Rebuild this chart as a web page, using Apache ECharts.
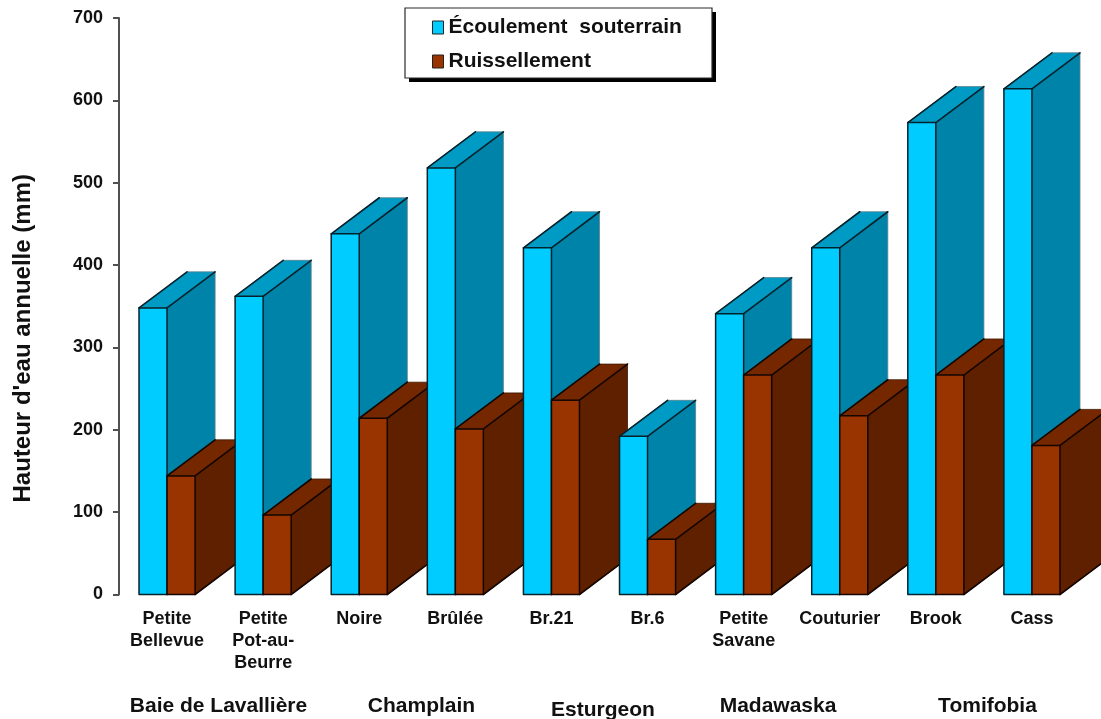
<!DOCTYPE html>
<html>
<head>
<meta charset="utf-8">
<title>Hauteur d'eau annuelle</title>
<style>html,body{margin:0;padding:0;background:#fff}#chart{width:1101px;height:719px}</style>
<script src="https://cdn.jsdelivr.net/npm/echarts@6/dist/echarts.min.js"></script>
</head>
<body>
<div id="chart"></div>
<script>
// Annual water depth (mm) per watershed
const stations = ['Petite\nBellevue', 'Petite\nPot-au-\nBeurre', 'Noire', 'Brûlée', 'Br.21', 'Br.6', 'Petite\nSavane', 'Couturier', 'Brook', 'Cass'];
const ecoulement = [348, 362, 438, 518, 421, 192, 341, 421, 573, 614];
const ruissellement = [144, 96.5, 214, 201, 236, 67, 266.5, 217, 266.5, 181];
const regions = ['Baie de Lavallière', 'Champlain', 'Esturgeon', 'Madawaska', 'Tomifobia'];
const regionCentres = [218.5, 421.5, 603, 778, 987.5];
const regionBaselines = [706, 706, 710, 706, 706];

const FONT = '"Liberation Sans", Arial, sans-serif';
const palette = {
  blue:  { front: '#00ccff', side: '#0083a8', top: '#009bc4', line: '#03222c', soft: '#5f7f8a' },
  brown: { front: '#993300', side: '#5f2000', top: '#752800', line: '#160600', soft: '#3a1500' }
};

// Extruded box: front face, right side and top, with the depth set relative to the band width
function boxRenderer(colours, bandOffset, seriesOrder) {
  return function (params, api) {
    const idx = api.value(0);
    const base = api.coord([idx, 0]);
    const head = api.coord([idx, api.value(1)]);
    const band = api.size([1, 0])[0];
    const w = band * 28 / 96;
    const dx = band * 48 / 96;
    const dy = band * 36 / 96;
    const x0 = base[0] + bandOffset * w;
    const x1 = x0 + w;
    const yB = base[1], yT = head[1];
    const z2 = idx * 10 + seriesOrder;
    const poly = (points, fill, stroke, lw, order) => ({
      type: 'polygon', z2: z2 + order, silent: true,
      shape: { points },
      style: { fill, stroke, lineWidth: lw, lineJoin: 'round' }
    });
    const seg = (a, b, order) => ({
      type: 'line', z2: z2 + order, silent: true,
      shape: { x1: a[0], y1: a[1], x2: b[0], y2: b[1] },
      style: { stroke: colours.line, lineWidth: 1.6, lineCap: 'round' }
    });
    return {
      type: 'group',
      children: [
        poly([[x1, yT], [x1 + dx, yT - dy], [x1 + dx, yB - dy], [x1, yB]], colours.side, colours.soft, 0.8, 0),
        poly([[x0, yT], [x0 + dx, yT - dy], [x1 + dx, yT - dy], [x1, yT]], colours.top, colours.soft, 0.8, 0),
        poly([[x0, yT], [x1, yT], [x1, yB], [x0, yB]], colours.front, colours.line, 1.5, 1),
        seg([x0, yT], [x0 + dx, yT - dy], 2),
        seg([x1, yT], [x1 + dx, yT - dy], 2),
        seg([x1, yB], [x1 + dx, yB - dy], 2)
      ]
    };
  };
}

// Legend frame with its hard drop shadow, placed under the legend entries
const legendFrame = [
  { type: 'rect', z: 3, silent: true, shape: { x: 409, y: 12, width: 307, height: 70 }, style: { fill: '#000000' } },
  { type: 'rect', z: 3, silent: true, shape: { x: 405, y: 8, width: 307, height: 70 }, style: { fill: '#ffffff', stroke: '#2a2a2a', lineWidth: 1.2 } }
];

const chart = echarts.init(document.getElementById('chart'), null, { renderer: 'canvas' });
chart.setOption({
  animation: false,
  backgroundColor: '#ffffff',
  textStyle: { fontFamily: FONT },
  grid: { left: 119, top: 18, width: 961, height: 576.5, containLabel: false },
  legend: {
    left: 405, top: 8, orient: 'vertical',
    padding: [9, 28, 6, 27],
    itemGap: 13, itemWidth: 11, itemHeight: 13,
    icon: 'rect', align: 'left',
    selectedMode: false,
    textStyle: { fontFamily: FONT, fontWeight: 'bold', fontSize: 21, color: '#111111' },
    itemStyle: { borderColor: '#222222', borderWidth: 1 },
    data: ['Écoulement  souterrain', 'Ruissellement']
  },
  xAxis: {
    type: 'category', data: stations,
    axisLine: { show: false }, axisTick: { show: false },
    axisLabel: { interval: 0, margin: 14, fontFamily: FONT, fontWeight: 'bold', fontSize: 18, lineHeight: 21.7, color: '#111111' }
  },
  yAxis: {
    type: 'value', min: 0, max: 700, interval: 100,
    name: "Hauteur d'eau annuelle (mm)", nameLocation: 'middle', nameGap: 84,
    nameTextStyle: { fontFamily: FONT, fontWeight: 'bold', fontSize: 24, color: '#111111', padding: [0, 64, 0, 0] },
    splitLine: { show: false },
    axisLine: { show: true, lineStyle: { color: '#505050', width: 2 } },
    axisTick: { show: true, length: 6, lineStyle: { color: '#505050', width: 2 } },
    axisLabel: { margin: 16, padding: [2, 0, 0, 0], fontFamily: FONT, fontWeight: 'bold', fontSize: 18, color: '#111111' }
  },
  series: [
    {
      name: 'Écoulement  souterrain', type: 'custom', clip: false,
      itemStyle: { color: palette.blue.front },
      encode: { x: 0, y: 1 },
      data: ecoulement.map((v, i) => [i, v]),
      renderItem: boxRenderer(palette.blue, -1, 0)
    },
    {
      name: 'Ruissellement', type: 'custom', clip: false,
      itemStyle: { color: palette.brown.front },
      encode: { x: 0, y: 1 },
      data: ruissellement.map((v, i) => [i, v]),
      renderItem: boxRenderer(palette.brown, 0, 5)
    }
  ],
  graphic: legendFrame.concat(regions.map((name, i) => ({
    type: 'text', silent: true, x: regionCentres[i], y: regionBaselines[i],
    style: { text: name, fontFamily: FONT, fontWeight: 'bold', fontSize: 21, fill: '#111111', align: 'center', verticalAlign: 'middle' }
  })))
});
</script>
</body>
</html>
